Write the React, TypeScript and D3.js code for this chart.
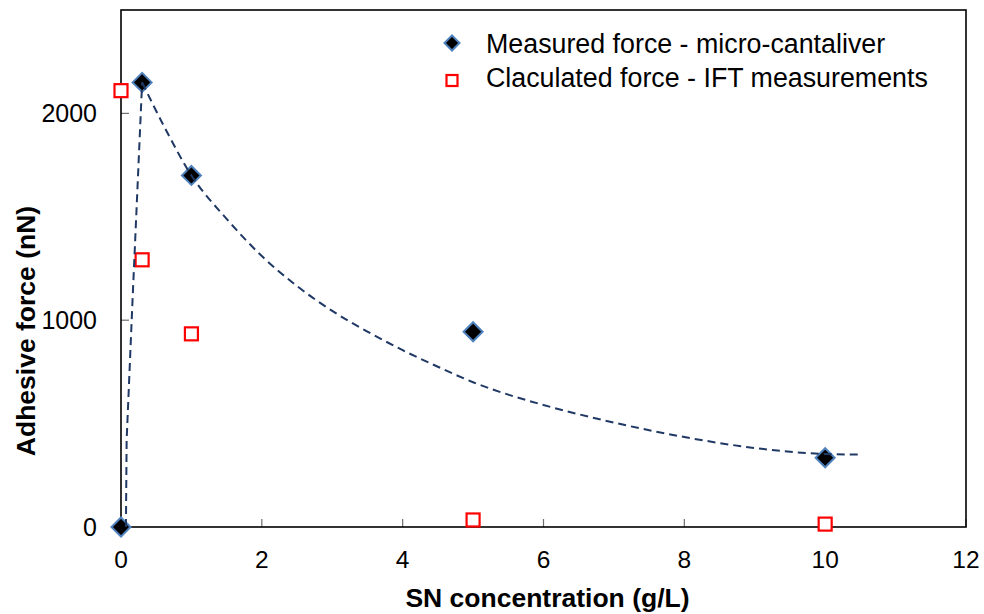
import React from "react";
import * as d3 from "d3";

const measuredX = [0, 0.3, 1, 5, 10];
const measuredY = [0, 2150, 1700, 944, 335];

const calcX = [0, 0.3, 1, 5, 10];
const calcY = [2110, 1292, 934, 34, 14];

// trend line (dashed)
const trendUpX = [0.07, 0.08, 0.16, 0.3];
const trendUpY = [0, 420, 1067, 2150];
const trendDownX = [0.3, 0.6, 1, 1.5, 2, 2.5, 3, 3.5, 4, 4.5, 5, 5.5, 6, 7, 8, 9, 10, 10.5];
const trendDownY = [2150, 1945, 1700, 1490, 1310, 1165, 1045, 945, 855, 775, 700, 640, 590, 505, 435, 382, 353, 350];

const xTicks = [0, 2, 4, 6, 8, 10, 12];
const yTicks = [0, 1000, 2000];

const legendLabels = ["Measured force - micro-cantaliver", "Claculated force - IFT measurements"];
const xTitle = "SN concentration (g/L)";
const yTitle = "Adhesive force (nN)";

const W = 984, H = 614;
const left = 121, right = 966, top = 10, bottom = 527;
const FONT = "Arial, 'Liberation Sans', sans-serif";

export default function App() {
  const x = d3.scaleLinear().domain([0, 12]).range([left, right]);
  const y = d3.scaleLinear().domain([0, 2500]).range([bottom, top]);

  const line = d3
    .line<[number, number]>()
    .x((d) => x(d[0]))
    .y((d) => y(d[1]))
    .curve(d3.curveMonotoneX);

  const upPts: [number, number][] = trendUpX.map((v, i) => [v, trendUpY[i]]);
  const downPts: [number, number][] = trendDownX.map((v, i) => [v, trendDownY[i]]);
  const upLine = d3
    .line<[number, number]>()
    .x((d) => x(d[0]))
    .y((d) => y(d[1]))
    .curve(d3.curveLinear);

  const diamond = (cx: number, cy: number, r: number) =>
    `M${cx},${cy - r}L${cx + r},${cy}L${cx},${cy + r}L${cx - r},${cy}Z`;

  return (
    <svg
      width={W}
      height={H}
      style={{ position: "absolute", left: 0, top: 0, background: "#fff" }}
      fontFamily={FONT}
    >
      <rect x={0} y={0} width={W} height={H} fill="#fff" />
      {/* ticks */}
      {xTicks.map((t) => (
        <line key={"xt" + t} x1={x(t)} x2={x(t)} y1={bottom} y2={bottom - 8} stroke="#6e6e6e" strokeWidth={1.2} />
      ))}
      {yTicks.map((t) => (
        <line key={"yt" + t} x1={left} x2={left + 8} y1={y(t)} y2={y(t)} stroke="#6e6e6e" strokeWidth={1.2} />
      ))}
      {/* frame */}
      <rect x={left} y={top} width={right - left} height={bottom - top} fill="none" stroke="#000" strokeWidth={1.6} />

      {/* tick labels */}
      {xTicks.map((t) => (
        <text key={"xl" + t} x={x(t)} y={568} textAnchor="middle" fontSize={24.5} fill="#000">
          {t}
        </text>
      ))}
      {yTicks.map((t) => (
        <text key={"yl" + t} x={97} y={y(t) + 9} textAnchor="end" fontSize={25} fill="#000">
          {t}
        </text>
      ))}

      {/* axis titles */}
      <text x={(left + right) / 2 + 4} y={607} textAnchor="middle" fontSize={26.5} fontWeight="bold" fill="#000">
        {xTitle}
      </text>
      <text
        transform={`translate(35,331) rotate(-90)`}
        textAnchor="middle"
        fontSize={26.5}
        fontWeight="bold"
        fill="#000"
      >
        {yTitle}
      </text>

      {/* calculated squares */}
      {calcX.map((v, i) => (
        <rect
          key={"c" + i}
          x={x(v) - 6.5}
          y={y(calcY[i]) - 6.5}
          width={13}
          height={13}
          fill="#fff"
          stroke="#ff0000"
          strokeWidth={2.2}
        />
      ))}

      {/* measured diamonds */}
      {measuredX.map((v, i) => (
        <path
          key={"m" + i}
          d={diamond(x(v), y(measuredY[i]), 9.5)}
          fill="#000"
          stroke="#4f81bd"
          strokeWidth={2}
        />
      ))}

      {/* trend line */}
      <path d={upLine(upPts) || ""} fill="none" stroke="#1f3864" strokeWidth={2} strokeDasharray="8,5" />
      <path d={line(downPts) || ""} fill="none" stroke="#1f3864" strokeWidth={2} strokeDasharray="8,5" />

      {/* legend */}
      <path d={diamond(452, 43, 7.5)} fill="#000" stroke="#4f81bd" strokeWidth={2} />
      <text x={486} y={52.5} fontSize={26.8} fill="#000">
        {legendLabels[0]}
      </text>
      <rect x={446.5} y={75} width={11} height={11} fill="#fff" stroke="#ff0000" strokeWidth={2.2} />
      <text x={486} y={86.5} fontSize={26.8} fill="#000">
        {legendLabels[1]}
      </text>
    </svg>
  );
}
